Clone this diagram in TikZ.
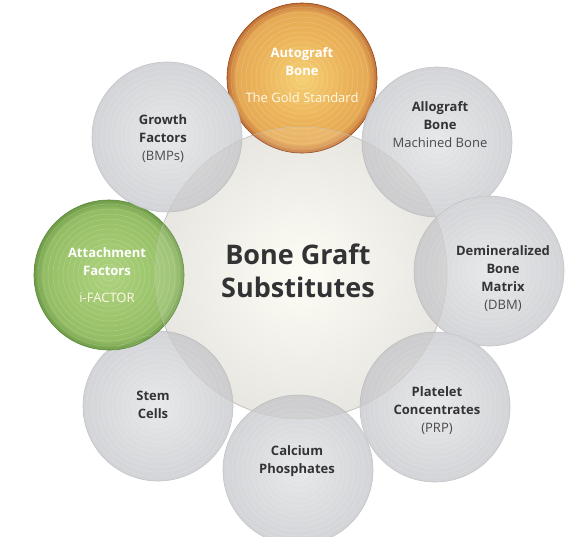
\documentclass[tikz,border=0pt]{standalone}
\usepackage{fontspec}
\setmainfont{Open Sans}
\definecolor{gin}{HTML}{E7E8EA}
\definecolor{gout}{HTML}{D3D4D7}
\definecolor{gbd}{HTML}{C3C4C7}
\definecolor{oin}{HTML}{F5D074}
\definecolor{omid}{HTML}{ECB45A}
\definecolor{oout}{HTML}{C27236}
\definecolor{obd}{HTML}{8E4418}
\definecolor{grin}{HTML}{AED27F}
\definecolor{grmid}{HTML}{9CC56C}
\definecolor{grout}{HTML}{6F9C48}
\definecolor{grbd}{HTML}{5A8A3A}
\definecolor{cin}{HTML}{FDFDF5}
\definecolor{cout}{HTML}{E7E6E1}
\definecolor{cbd}{HTML}{C4C3BF}
\definecolor{txt}{HTML}{333335}
\definecolor{subtxt}{HTML}{4A4A4C}
\definecolor{wsub}{HTML}{FFF9E6}
\pgfdeclareradialshading{orangesh}{\pgfpoint{0bp}{0bp}}{color(0bp)=(oin); color(14bp)=(omid); color(22bp)=(omid!85!oout); color(25bp)=(oout); color(50bp)=(oout)}
\pgfdeclareradialshading{greensh}{\pgfpoint{0bp}{0bp}}{color(0bp)=(grin); color(15bp)=(grmid); color(22bp)=(grmid!80!grout); color(25bp)=(grout); color(50bp)=(grout)}
\tikzset{
  bub/.style={circle, minimum size=150pt, inner sep=0pt, line width=0.6pt},
  graybub/.style={bub, shade, inner color=gin, outer color=gout, draw=gbd},
  orangebub/.style={bub, shade, shading=orangesh, draw=obd},
  greenbub/.style={bub, shade, shading=greensh, draw=grbd},
  centerbub/.style={circle, minimum size=292pt, inner sep=0pt, line width=0.6pt, shade, inner color=cin, outer color=cout, draw=cbd},
  ring/.style={draw=white, draw opacity=0.2, line width=0.5pt},
  lab/.style={align=center, inner sep=0pt, text=txt, font=\fontsize{13}{18}\selectfont\bfseries},
  wlab/.style={lab, text=white},
  title/.style={align=center, inner sep=0pt, text=txt, font=\fontsize{27}{33}\selectfont\bfseries}
}
\newcommand\subl[1]{{\mdseries\color{subtxt}#1}}
\newcommand\wsubl[1]{{\mdseries\color{wsub}#1}}
\begin{document}
\begin{tikzpicture}[x=1pt,y=-1pt]
\useasboundingbox (0,0) rectangle (570,536);
\fill[white] (0,0) rectangle (570,536);
% central circle
\node[centerbub] (core) at (301,273) {};
% outer circles
\node[orangebub] (auto) at (302,78) {};
\node[graybub] (allo) at (437,142) {};
\node[graybub] (dbm) at (489,271) {};
\node[graybub] (prp) at (435,407) {};
\node[graybub] (calc) at (298,470) {};
\node[graybub] (stem) at (158,406) {};
\node[greenbub] (att) at (109,275) {};
\node[graybub] (grow) at (167,137) {};
% concentric ring texture
\foreach \c in {auto,allo,dbm,prp,calc,stem,att,grow}{
  \foreach \r in {6,11,...,71}{
    \draw[ring] (\c.center) circle (\r);
  }
}
% overlaps with the central circle (seen through the outer circles)
\begin{scope}
  \clip (core.center) circle (146);
  \foreach \c in {allo,dbm,prp,calc,stem,grow}{
    \fill[black!60!brown, fill opacity=0.05] (\c.center) circle (75);
  }
  \foreach \c in {auto,att}{
    \fill[white, fill opacity=0.12] (\c.center) circle (75);
  }
\end{scope}
\draw[cbd, draw opacity=0.7, line width=0.5pt] (core.center) circle (146);
% labels
\node[title] (ttitle) at (298,271) {Bone Graft\\Substitutes};
\node[wlab] (tauto) at (302,75) {Autograft\\Bone\\[9pt]\wsubl{The Gold Standard}};
\node[lab] (tallo) at (440,125) {Allograft\\Bone\\\subl{Machined Bone}};
\node[lab] (tdbm) at (503,279) {Demineralized\\Bone\\Matrix\\\subl{(DBM)}};
\node[lab] (tprp) at (437,411) {Platelet\\Concentrates\\\subl{(PRP)}};
\node[lab] (tcalc) at (297,461) {Calcium\\Phosphates};
\node[lab] (tstem) at (153,405) {Stem\\Cells};
\node[wlab] (tatt) at (107,275) {Attachment\\Factors\\[9pt]\wsubl{i-FACTOR}};
\node[lab] (tgrow) at (163,139) {Growth\\Factors\\\subl{(BMPs)}};
\end{tikzpicture}
\end{document}
